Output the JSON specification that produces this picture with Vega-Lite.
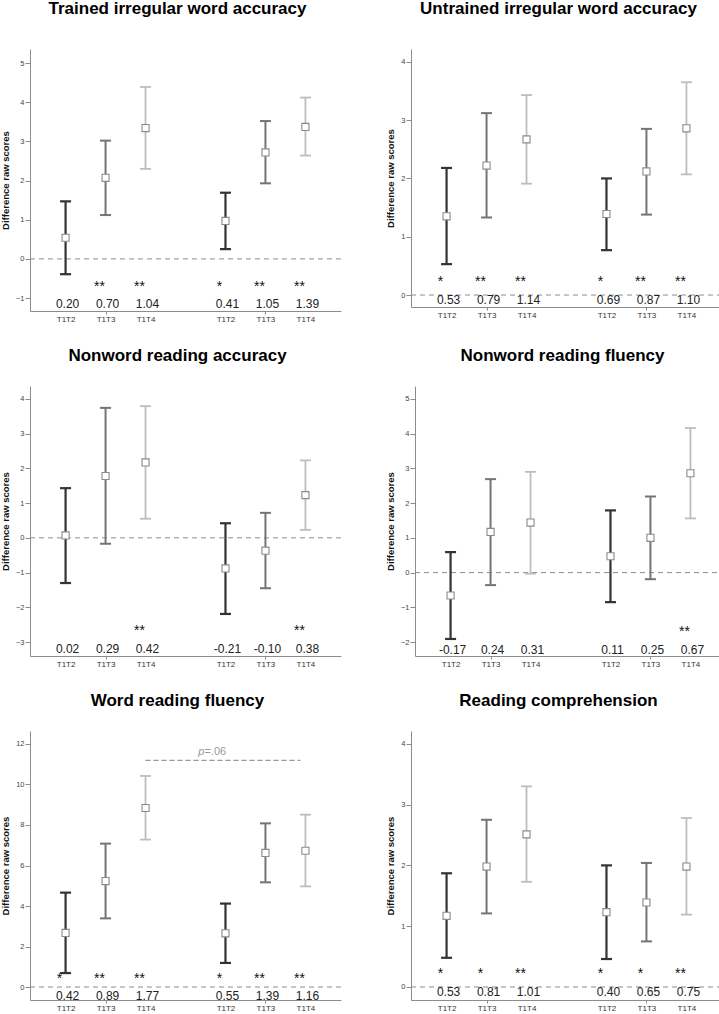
{
"$schema": "https://vega.github.io/schema/vega-lite/v6.json",
"padding": {"left": 0, "top": 0, "right": 0, "bottom": 0},
"background": "white",
"config": {
 "font": "Liberation Sans",
 "view": {"stroke": null},
 "axis": {"domainColor": "#8c8c8c", "tickColor": "#8c8c8c", "labelColor": "#444444", "grid": false, "labelFont": "Liberation Sans", "titleFont": "Liberation Sans"},
 "axisY": {"labelFontSize": 7.5, "tickSize": 5, "labelPadding": 1, "titleFontSize": 9.5, "titleFontWeight": "bold", "titleColor": "#111111", "titlePadding": 5, "format": "d", "labelOverlap": false, "tickCount": 30},
 "axisX": {"labelFontSize": 8, "tickSize": 3, "labelPadding": 1, "labelAngle": 0, "labelColor": "#333333"},
 "title": {"fontSize": 17, "fontWeight": "bold", "color": "#000000", "font": "Liberation Sans", "dx": -8}
},
"datasets": {
 "p1": [
  {"cond": "A:T1T2", "time": "T1T2", "mean": 0.54, "lo": -0.39, "hi": 1.47, "es": "0.20", "sig": ""},
  {"cond": "A:T1T3", "time": "T1T3", "mean": 2.07, "lo": 1.12, "hi": 3.02, "es": "0.70", "sig": "**"},
  {"cond": "A:T1T4", "time": "T1T4", "mean": 3.34, "lo": 2.30, "hi": 4.39, "es": "1.04", "sig": "**"},
  {"cond": "B:T1T2", "time": "T1T2", "mean": 0.97, "lo": 0.25, "hi": 1.69, "es": "0.41", "sig": "*"},
  {"cond": "B:T1T3", "time": "T1T3", "mean": 2.72, "lo": 1.93, "hi": 3.52, "es": "1.05", "sig": "**"},
  {"cond": "B:T1T4", "time": "T1T4", "mean": 3.37, "lo": 2.64, "hi": 4.12, "es": "1.39", "sig": "**"}
 ],
 "p2": [
  {"cond": "A:T1T2", "time": "T1T2", "mean": 1.35, "lo": 0.53, "hi": 2.18, "es": "0.53", "sig": "*"},
  {"cond": "A:T1T3", "time": "T1T3", "mean": 2.22, "lo": 1.33, "hi": 3.12, "es": "0.79", "sig": "**"},
  {"cond": "A:T1T4", "time": "T1T4", "mean": 2.67, "lo": 1.91, "hi": 3.43, "es": "1.14", "sig": "**"},
  {"cond": "B:T1T2", "time": "T1T2", "mean": 1.39, "lo": 0.77, "hi": 2.00, "es": "0.69", "sig": "*"},
  {"cond": "B:T1T3", "time": "T1T3", "mean": 2.12, "lo": 1.38, "hi": 2.85, "es": "0.87", "sig": "**"},
  {"cond": "B:T1T4", "time": "T1T4", "mean": 2.86, "lo": 2.07, "hi": 3.65, "es": "1.10", "sig": "**"}
 ],
 "p3": [
  {"cond": "A:T1T2", "time": "T1T2", "mean": 0.07, "lo": -1.30, "hi": 1.43, "es": "0.02", "sig": ""},
  {"cond": "A:T1T3", "time": "T1T3", "mean": 1.78, "lo": -0.17, "hi": 3.74, "es": "0.29", "sig": ""},
  {"cond": "A:T1T4", "time": "T1T4", "mean": 2.17, "lo": 0.55, "hi": 3.79, "es": "0.42", "sig": "**"},
  {"cond": "B:T1T2", "time": "T1T2", "mean": -0.88, "lo": -2.19, "hi": 0.42, "es": "-0.21", "sig": ""},
  {"cond": "B:T1T3", "time": "T1T3", "mean": -0.37, "lo": -1.45, "hi": 0.72, "es": "-0.10", "sig": ""},
  {"cond": "B:T1T4", "time": "T1T4", "mean": 1.23, "lo": 0.23, "hi": 2.23, "es": "0.38", "sig": "**"}
 ],
 "p4": [
  {"cond": "A:T1T2", "time": "T1T2", "mean": -0.66, "lo": -1.91, "hi": 0.59, "es": "-0.17", "sig": ""},
  {"cond": "A:T1T3", "time": "T1T3", "mean": 1.17, "lo": -0.36, "hi": 2.69, "es": "0.24", "sig": ""},
  {"cond": "A:T1T4", "time": "T1T4", "mean": 1.44, "lo": -0.03, "hi": 2.90, "es": "0.31", "sig": ""},
  {"cond": "B:T1T2", "time": "T1T2", "mean": 0.47, "lo": -0.85, "hi": 1.79, "es": "0.11", "sig": ""},
  {"cond": "B:T1T3", "time": "T1T3", "mean": 1.00, "lo": -0.19, "hi": 2.19, "es": "0.25", "sig": ""},
  {"cond": "B:T1T4", "time": "T1T4", "mean": 2.86, "lo": 1.56, "hi": 4.16, "es": "0.67", "sig": "**"}
 ],
 "p5": [
  {"cond": "A:T1T2", "time": "T1T2", "mean": 2.67, "lo": 0.69, "hi": 4.66, "es": "0.42", "sig": "*"},
  {"cond": "A:T1T3", "time": "T1T3", "mean": 5.23, "lo": 3.39, "hi": 7.08, "es": "0.89", "sig": "**"},
  {"cond": "A:T1T4", "time": "T1T4", "mean": 8.84, "lo": 7.28, "hi": 10.42, "es": "1.77", "sig": "**"},
  {"cond": "B:T1T2", "time": "T1T2", "mean": 2.65, "lo": 1.19, "hi": 4.12, "es": "0.55", "sig": "*"},
  {"cond": "B:T1T3", "time": "T1T3", "mean": 6.62, "lo": 5.17, "hi": 8.08, "es": "1.39", "sig": "**"},
  {"cond": "B:T1T4", "time": "T1T4", "mean": 6.73, "lo": 4.97, "hi": 8.51, "es": "1.16", "sig": "**"}
 ],
 "p6": [
  {"cond": "A:T1T2", "time": "T1T2", "mean": 1.17, "lo": 0.48, "hi": 1.87, "es": "0.53", "sig": "*"},
  {"cond": "A:T1T3", "time": "T1T3", "mean": 1.98, "lo": 1.21, "hi": 2.75, "es": "0.81", "sig": "*"},
  {"cond": "A:T1T4", "time": "T1T4", "mean": 2.51, "lo": 1.73, "hi": 3.30, "es": "1.01", "sig": "**"},
  {"cond": "B:T1T2", "time": "T1T2", "mean": 1.23, "lo": 0.46, "hi": 2.00, "es": "0.40", "sig": "*"},
  {"cond": "B:T1T3", "time": "T1T3", "mean": 1.39, "lo": 0.75, "hi": 2.04, "es": "0.65", "sig": "*"},
  {"cond": "B:T1T4", "time": "T1T4", "mean": 1.98, "lo": 1.19, "hi": 2.78, "es": "0.75", "sig": "**"}
 ]
},
"vconcat": [
 {"hconcat": [
  {"width": 311, "height": 262, "data": {"name": "p1"},
   "title": {"text": "Trained irregular word accuracy", "offset": 31},
   "layer": [
    {"data": {"values": [{}]}, "mark": {"type": "rule", "color": "#8c8c8c", "strokeDash": [5, 4], "strokeWidth": 1}, "encoding": {"y": {"datum": 0, "type": "quantitative", "title": "Difference raw scores", "scale": {"domain": [-1.33, 5.36], "nice": false, "zero": false}, "axis": {"values": [-1, 0, 1, 2, 3, 4, 5]}}}},
    {"mark": "rule", "encoding": {"x": {"field": "cond", "type": "nominal", "title": null, "scale": {"type": "point", "domain": ["A:T1T2", "A:T1T3", "A:T1T4", "gap", "B:T1T2", "B:T1T3", "B:T1T4"], "padding": 0.89}, "axis": {"values": ["A:T1T2", "A:T1T3", "A:T1T4", "B:T1T2", "B:T1T3", "B:T1T4"], "labelExpr": "slice(datum.value, 2)", "tickOpacity": {"condition": {"test": "indexof(datum.value, 'T1T3') >= 0", "value": 1}, "value": 0}}}, "y": {"field": "lo", "type": "quantitative", "title": "Difference raw scores"}, "y2": {"field": "hi"}, "color": {"field": "time", "type": "nominal", "scale": {"domain": ["T1T2", "T1T3", "T1T4"], "range": ["#333333", "#747474", "#bdbdbd"]}, "legend": null}, "strokeWidth": {"field": "time", "type": "ordinal", "scale": {"domain": ["T1T2", "T1T3", "T1T4"], "range": [2.2, 1.8, 1.6]}, "legend": null}}},
    {"mark": {"type": "point", "shape": "stroke", "size": 121, "filled": false, "opacity": 1}, "encoding": {"x": {"field": "cond", "type": "nominal"}, "y": {"field": "lo", "type": "quantitative", "title": "Difference raw scores"}, "color": {"field": "time", "type": "nominal"}, "strokeWidth": {"field": "time", "type": "ordinal"}}},
    {"mark": {"type": "point", "shape": "stroke", "size": 121, "filled": false, "opacity": 1}, "encoding": {"x": {"field": "cond", "type": "nominal"}, "y": {"field": "hi", "type": "quantitative", "title": "Difference raw scores"}, "color": {"field": "time", "type": "nominal"}, "strokeWidth": {"field": "time", "type": "ordinal"}}},
    {"mark": {"type": "square", "size": 50, "fill": "#ffffff", "stroke": "#8a8a8a", "strokeWidth": 1.1, "opacity": 1}, "encoding": {"x": {"field": "cond", "type": "nominal"}, "y": {"field": "mean", "type": "quantitative", "title": "Difference raw scores"}}},
    {"mark": {"type": "text", "fontSize": 14, "color": "#111111", "baseline": "middle", "dx": -6, "dy": 3}, "encoding": {"x": {"field": "cond", "type": "nominal"}, "y": {"datum": -0.63, "type": "quantitative", "title": "Difference raw scores"}, "text": {"field": "sig"}}},
    {"mark": {"type": "text", "fontSize": 12, "color": "#222222", "baseline": "middle", "dx": 2}, "encoding": {"x": {"field": "cond", "type": "nominal"}, "y": {"datum": -1.14, "type": "quantitative", "title": "Difference raw scores"}, "text": {"field": "es"}}}
   ]},
  {"width": 311, "height": 258, "data": {"name": "p2"},
   "title": {"text": "Untrained irregular word accuracy", "offset": 31},
   "layer": [
    {"data": {"values": [{}]}, "mark": {"type": "rule", "color": "#8c8c8c", "strokeDash": [5, 4], "strokeWidth": 1}, "encoding": {"y": {"datum": 0, "type": "quantitative", "title": "Difference raw scores", "scale": {"domain": [-0.205, 4.22], "nice": false, "zero": false}, "axis": {"values": [0, 1, 2, 3, 4]}}}},
    {"mark": "rule", "encoding": {"x": {"field": "cond", "type": "nominal", "title": null, "scale": {"type": "point", "domain": ["A:T1T2", "A:T1T3", "A:T1T4", "gap", "B:T1T2", "B:T1T3", "B:T1T4"], "padding": 0.89}, "axis": {"values": ["A:T1T2", "A:T1T3", "A:T1T4", "B:T1T2", "B:T1T3", "B:T1T4"], "labelExpr": "slice(datum.value, 2)", "tickOpacity": {"condition": {"test": "indexof(datum.value, 'T1T3') >= 0", "value": 1}, "value": 0}}}, "y": {"field": "lo", "type": "quantitative", "title": "Difference raw scores"}, "y2": {"field": "hi"}, "color": {"field": "time", "type": "nominal", "scale": {"domain": ["T1T2", "T1T3", "T1T4"], "range": ["#333333", "#747474", "#bdbdbd"]}, "legend": null}, "strokeWidth": {"field": "time", "type": "ordinal", "scale": {"domain": ["T1T2", "T1T3", "T1T4"], "range": [2.2, 1.8, 1.6]}, "legend": null}}},
    {"mark": {"type": "point", "shape": "stroke", "size": 121, "filled": false, "opacity": 1}, "encoding": {"x": {"field": "cond", "type": "nominal"}, "y": {"field": "lo", "type": "quantitative", "title": "Difference raw scores"}, "color": {"field": "time", "type": "nominal"}, "strokeWidth": {"field": "time", "type": "ordinal"}}},
    {"mark": {"type": "point", "shape": "stroke", "size": 121, "filled": false, "opacity": 1}, "encoding": {"x": {"field": "cond", "type": "nominal"}, "y": {"field": "hi", "type": "quantitative", "title": "Difference raw scores"}, "color": {"field": "time", "type": "nominal"}, "strokeWidth": {"field": "time", "type": "ordinal"}}},
    {"mark": {"type": "square", "size": 50, "fill": "#ffffff", "stroke": "#8a8a8a", "strokeWidth": 1.1, "opacity": 1}, "encoding": {"x": {"field": "cond", "type": "nominal"}, "y": {"field": "mean", "type": "quantitative", "title": "Difference raw scores"}}},
    {"mark": {"type": "text", "fontSize": 14, "color": "#111111", "baseline": "middle", "dx": -6, "dy": 3}, "encoding": {"x": {"field": "cond", "type": "nominal"}, "y": {"datum": 0.28, "type": "quantitative", "title": "Difference raw scores"}, "text": {"field": "sig"}}},
    {"mark": {"type": "text", "fontSize": 12, "color": "#222222", "baseline": "middle", "dx": 2}, "encoding": {"x": {"field": "cond", "type": "nominal"}, "y": {"datum": -0.08, "type": "quantitative", "title": "Difference raw scores"}, "text": {"field": "es"}}}
   ]}
 ], "spacing": 43},
 {"hconcat": [
  {"width": 311, "height": 270, "data": {"name": "p3"},
   "title": {"text": "Nonword reading accuracy", "offset": 21},
   "layer": [
    {"data": {"values": [{}]}, "mark": {"type": "rule", "color": "#8c8c8c", "strokeDash": [5, 4], "strokeWidth": 1}, "encoding": {"y": {"datum": 0, "type": "quantitative", "title": "Difference raw scores", "scale": {"domain": [-3.40, 4.37], "nice": false, "zero": false}, "axis": {"values": [-3, -2, -1, 0, 1, 2, 3, 4]}}}},
    {"mark": "rule", "encoding": {"x": {"field": "cond", "type": "nominal", "title": null, "scale": {"type": "point", "domain": ["A:T1T2", "A:T1T3", "A:T1T4", "gap", "B:T1T2", "B:T1T3", "B:T1T4"], "padding": 0.89}, "axis": {"values": ["A:T1T2", "A:T1T3", "A:T1T4", "B:T1T2", "B:T1T3", "B:T1T4"], "labelExpr": "slice(datum.value, 2)", "tickOpacity": {"condition": {"test": "indexof(datum.value, 'T1T3') >= 0", "value": 1}, "value": 0}}}, "y": {"field": "lo", "type": "quantitative", "title": "Difference raw scores"}, "y2": {"field": "hi"}, "color": {"field": "time", "type": "nominal", "scale": {"domain": ["T1T2", "T1T3", "T1T4"], "range": ["#333333", "#747474", "#bdbdbd"]}, "legend": null}, "strokeWidth": {"field": "time", "type": "ordinal", "scale": {"domain": ["T1T2", "T1T3", "T1T4"], "range": [2.2, 1.8, 1.6]}, "legend": null}}},
    {"mark": {"type": "point", "shape": "stroke", "size": 121, "filled": false, "opacity": 1}, "encoding": {"x": {"field": "cond", "type": "nominal"}, "y": {"field": "lo", "type": "quantitative", "title": "Difference raw scores"}, "color": {"field": "time", "type": "nominal"}, "strokeWidth": {"field": "time", "type": "ordinal"}}},
    {"mark": {"type": "point", "shape": "stroke", "size": 121, "filled": false, "opacity": 1}, "encoding": {"x": {"field": "cond", "type": "nominal"}, "y": {"field": "hi", "type": "quantitative", "title": "Difference raw scores"}, "color": {"field": "time", "type": "nominal"}, "strokeWidth": {"field": "time", "type": "ordinal"}}},
    {"mark": {"type": "square", "size": 50, "fill": "#ffffff", "stroke": "#8a8a8a", "strokeWidth": 1.1, "opacity": 1}, "encoding": {"x": {"field": "cond", "type": "nominal"}, "y": {"field": "mean", "type": "quantitative", "title": "Difference raw scores"}}},
    {"mark": {"type": "text", "fontSize": 14, "color": "#111111", "baseline": "middle", "dx": -6, "dy": 3}, "encoding": {"x": {"field": "cond", "type": "nominal"}, "y": {"datum": -2.58, "type": "quantitative", "title": "Difference raw scores"}, "text": {"field": "sig"}}},
    {"mark": {"type": "text", "fontSize": 12, "color": "#222222", "baseline": "middle", "dx": 2}, "encoding": {"x": {"field": "cond", "type": "nominal"}, "y": {"datum": -3.20, "type": "quantitative", "title": "Difference raw scores"}, "text": {"field": "es"}}}
   ]},
  {"width": 311, "height": 270, "data": {"name": "p4"},
   "title": {"text": "Nonword reading fluency", "offset": 21},
   "layer": [
    {"data": {"values": [{}]}, "mark": {"type": "rule", "color": "#8c8c8c", "strokeDash": [5, 4], "strokeWidth": 1}, "encoding": {"y": {"datum": 0, "type": "quantitative", "title": "Difference raw scores", "scale": {"domain": [-2.40, 5.37], "nice": false, "zero": false}, "axis": {"values": [-2, -1, 0, 1, 2, 3, 4, 5]}}}},
    {"mark": "rule", "encoding": {"x": {"field": "cond", "type": "nominal", "title": null, "scale": {"type": "point", "domain": ["A:T1T2", "A:T1T3", "A:T1T4", "gap", "B:T1T2", "B:T1T3", "B:T1T4"], "padding": 0.89}, "axis": {"values": ["A:T1T2", "A:T1T3", "A:T1T4", "B:T1T2", "B:T1T3", "B:T1T4"], "labelExpr": "slice(datum.value, 2)", "tickOpacity": {"condition": {"test": "indexof(datum.value, 'T1T3') >= 0", "value": 1}, "value": 0}}}, "y": {"field": "lo", "type": "quantitative", "title": "Difference raw scores"}, "y2": {"field": "hi"}, "color": {"field": "time", "type": "nominal", "scale": {"domain": ["T1T2", "T1T3", "T1T4"], "range": ["#333333", "#747474", "#bdbdbd"]}, "legend": null}, "strokeWidth": {"field": "time", "type": "ordinal", "scale": {"domain": ["T1T2", "T1T3", "T1T4"], "range": [2.2, 1.8, 1.6]}, "legend": null}}},
    {"mark": {"type": "point", "shape": "stroke", "size": 121, "filled": false, "opacity": 1}, "encoding": {"x": {"field": "cond", "type": "nominal"}, "y": {"field": "lo", "type": "quantitative", "title": "Difference raw scores"}, "color": {"field": "time", "type": "nominal"}, "strokeWidth": {"field": "time", "type": "ordinal"}}},
    {"mark": {"type": "point", "shape": "stroke", "size": 121, "filled": false, "opacity": 1}, "encoding": {"x": {"field": "cond", "type": "nominal"}, "y": {"field": "hi", "type": "quantitative", "title": "Difference raw scores"}, "color": {"field": "time", "type": "nominal"}, "strokeWidth": {"field": "time", "type": "ordinal"}}},
    {"mark": {"type": "square", "size": 50, "fill": "#ffffff", "stroke": "#8a8a8a", "strokeWidth": 1.1, "opacity": 1}, "encoding": {"x": {"field": "cond", "type": "nominal"}, "y": {"field": "mean", "type": "quantitative", "title": "Difference raw scores"}}},
    {"mark": {"type": "text", "fontSize": 14, "color": "#111111", "baseline": "middle", "dx": -6, "dy": 3}, "encoding": {"x": {"field": "cond", "type": "nominal"}, "y": {"datum": -1.62, "type": "quantitative", "title": "Difference raw scores"}, "text": {"field": "sig"}}},
    {"mark": {"type": "text", "fontSize": 12, "color": "#222222", "baseline": "middle", "dx": 2}, "encoding": {"x": {"field": "cond", "type": "nominal"}, "y": {"datum": -2.23, "type": "quantitative", "title": "Difference raw scores"}, "text": {"field": "es"}}}
   ]}
 ], "spacing": 43},
 {"hconcat": [
  {"width": 311, "height": 269, "data": {"name": "p5"},
   "title": {"text": "Word reading fluency", "offset": 21},
   "layer": [
    {"data": {"values": [{}]}, "mark": {"type": "rule", "color": "#8c8c8c", "strokeDash": [5, 4], "strokeWidth": 1}, "encoding": {"y": {"datum": 0, "type": "quantitative", "title": "Difference raw scores", "scale": {"domain": [-0.64, 12.64], "nice": false, "zero": false}, "axis": {"values": [0, 2, 4, 6, 8, 10, 12]}}}},
    {"mark": "rule", "encoding": {"x": {"field": "cond", "type": "nominal", "title": null, "scale": {"type": "point", "domain": ["A:T1T2", "A:T1T3", "A:T1T4", "gap", "B:T1T2", "B:T1T3", "B:T1T4"], "padding": 0.89}, "axis": {"values": ["A:T1T2", "A:T1T3", "A:T1T4", "B:T1T2", "B:T1T3", "B:T1T4"], "labelExpr": "slice(datum.value, 2)", "tickOpacity": {"condition": {"test": "indexof(datum.value, 'T1T3') >= 0", "value": 1}, "value": 0}}}, "y": {"field": "lo", "type": "quantitative", "title": "Difference raw scores"}, "y2": {"field": "hi"}, "color": {"field": "time", "type": "nominal", "scale": {"domain": ["T1T2", "T1T3", "T1T4"], "range": ["#333333", "#747474", "#bdbdbd"]}, "legend": null}, "strokeWidth": {"field": "time", "type": "ordinal", "scale": {"domain": ["T1T2", "T1T3", "T1T4"], "range": [2.2, 1.8, 1.6]}, "legend": null}}},
    {"mark": {"type": "point", "shape": "stroke", "size": 121, "filled": false, "opacity": 1}, "encoding": {"x": {"field": "cond", "type": "nominal"}, "y": {"field": "lo", "type": "quantitative", "title": "Difference raw scores"}, "color": {"field": "time", "type": "nominal"}, "strokeWidth": {"field": "time", "type": "ordinal"}}},
    {"mark": {"type": "point", "shape": "stroke", "size": 121, "filled": false, "opacity": 1}, "encoding": {"x": {"field": "cond", "type": "nominal"}, "y": {"field": "hi", "type": "quantitative", "title": "Difference raw scores"}, "color": {"field": "time", "type": "nominal"}, "strokeWidth": {"field": "time", "type": "ordinal"}}},
    {"mark": {"type": "square", "size": 50, "fill": "#ffffff", "stroke": "#8a8a8a", "strokeWidth": 1.1, "opacity": 1}, "encoding": {"x": {"field": "cond", "type": "nominal"}, "y": {"field": "mean", "type": "quantitative", "title": "Difference raw scores"}}},
    {"mark": {"type": "text", "fontSize": 14, "color": "#111111", "baseline": "middle", "dx": -6, "dy": 3}, "encoding": {"x": {"field": "cond", "type": "nominal"}, "y": {"datum": 0.54, "type": "quantitative", "title": "Difference raw scores"}, "text": {"field": "sig"}}},
    {"mark": {"type": "text", "fontSize": 12, "color": "#222222", "baseline": "middle", "dx": 2}, "encoding": {"x": {"field": "cond", "type": "nominal"}, "y": {"datum": -0.44, "type": "quantitative", "title": "Difference raw scores"}, "text": {"field": "es"}}},
    {"data": {"values": [{}]}, "mark": {"type": "rule", "color": "#999999", "strokeDash": [5, 3], "strokeWidth": 1.2, "x2Offset": -5}, "encoding": {"x": {"datum": "A:T1T4"}, "x2": {"datum": "B:T1T4"}, "y": {"datum": 11.19, "type": "quantitative", "title": "Difference raw scores"}}},
    {"data": {"values": [{}]}, "mark": {"type": "text", "text": "p", "fontStyle": "italic", "fontSize": 11, "color": "#999999", "align": "right", "baseline": "middle", "dx": -21}, "encoding": {"x": {"datum": "B:T1T2"}, "y": {"datum": 11.62, "type": "quantitative", "title": "Difference raw scores"}}},
    {"data": {"values": [{}]}, "mark": {"type": "text", "text": "=.06", "fontSize": 11, "color": "#999999", "align": "left", "baseline": "middle", "dx": -21}, "encoding": {"x": {"datum": "B:T1T2"}, "y": {"datum": 11.62, "type": "quantitative", "title": "Difference raw scores"}}}
   ]},
  {"width": 311, "height": 269, "data": {"name": "p6"},
   "title": {"text": "Reading comprehension", "offset": 21},
   "layer": [
    {"data": {"values": [{}]}, "mark": {"type": "rule", "color": "#8c8c8c", "strokeDash": [5, 4], "strokeWidth": 1}, "encoding": {"y": {"datum": 0, "type": "quantitative", "title": "Difference raw scores", "scale": {"domain": [-0.214, 4.21], "nice": false, "zero": false}, "axis": {"values": [0, 1, 2, 3, 4]}}}},
    {"mark": "rule", "encoding": {"x": {"field": "cond", "type": "nominal", "title": null, "scale": {"type": "point", "domain": ["A:T1T2", "A:T1T3", "A:T1T4", "gap", "B:T1T2", "B:T1T3", "B:T1T4"], "padding": 0.89}, "axis": {"values": ["A:T1T2", "A:T1T3", "A:T1T4", "B:T1T2", "B:T1T3", "B:T1T4"], "labelExpr": "slice(datum.value, 2)", "tickOpacity": {"condition": {"test": "indexof(datum.value, 'T1T3') >= 0", "value": 1}, "value": 0}}}, "y": {"field": "lo", "type": "quantitative", "title": "Difference raw scores"}, "y2": {"field": "hi"}, "color": {"field": "time", "type": "nominal", "scale": {"domain": ["T1T2", "T1T3", "T1T4"], "range": ["#333333", "#747474", "#bdbdbd"]}, "legend": null}, "strokeWidth": {"field": "time", "type": "ordinal", "scale": {"domain": ["T1T2", "T1T3", "T1T4"], "range": [2.2, 1.8, 1.6]}, "legend": null}}},
    {"mark": {"type": "point", "shape": "stroke", "size": 121, "filled": false, "opacity": 1}, "encoding": {"x": {"field": "cond", "type": "nominal"}, "y": {"field": "lo", "type": "quantitative", "title": "Difference raw scores"}, "color": {"field": "time", "type": "nominal"}, "strokeWidth": {"field": "time", "type": "ordinal"}}},
    {"mark": {"type": "point", "shape": "stroke", "size": 121, "filled": false, "opacity": 1}, "encoding": {"x": {"field": "cond", "type": "nominal"}, "y": {"field": "hi", "type": "quantitative", "title": "Difference raw scores"}, "color": {"field": "time", "type": "nominal"}, "strokeWidth": {"field": "time", "type": "ordinal"}}},
    {"mark": {"type": "square", "size": 50, "fill": "#ffffff", "stroke": "#8a8a8a", "strokeWidth": 1.1, "opacity": 1}, "encoding": {"x": {"field": "cond", "type": "nominal"}, "y": {"field": "mean", "type": "quantitative", "title": "Difference raw scores"}}},
    {"mark": {"type": "text", "fontSize": 14, "color": "#111111", "baseline": "middle", "dx": -6, "dy": 3}, "encoding": {"x": {"field": "cond", "type": "nominal"}, "y": {"datum": 0.26, "type": "quantitative", "title": "Difference raw scores"}, "text": {"field": "sig"}}},
    {"mark": {"type": "text", "fontSize": 12, "color": "#222222", "baseline": "middle", "dx": 2}, "encoding": {"x": {"field": "cond", "type": "nominal"}, "y": {"datum": -0.09, "type": "quantitative", "title": "Difference raw scores"}, "text": {"field": "es"}}}
   ]}
 ], "spacing": 43}
],
"spacing": 24
}
